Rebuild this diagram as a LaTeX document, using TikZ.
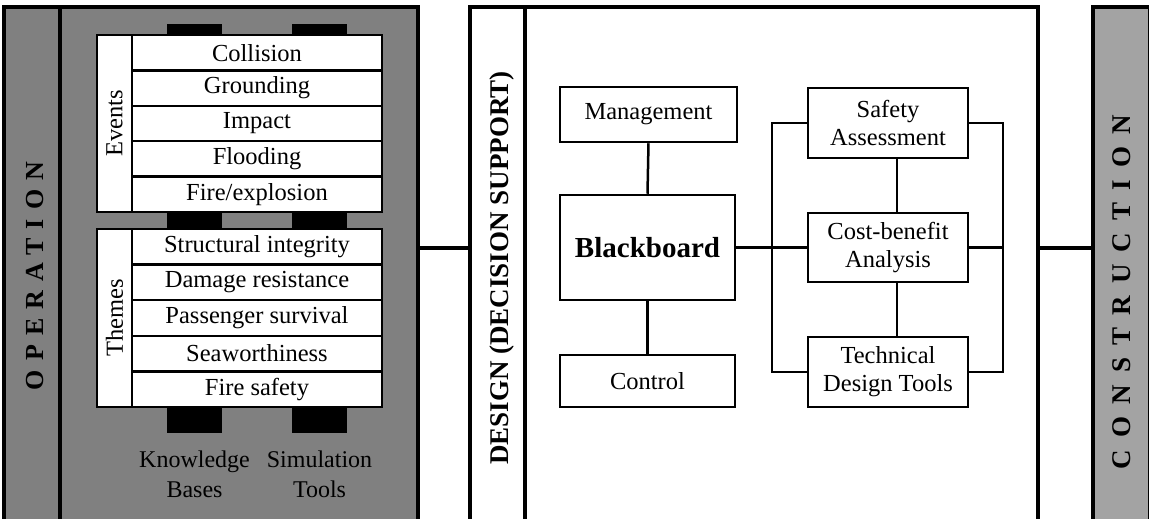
\documentclass[tikz,border=0pt]{standalone}
\usepackage{fontspec}
\setmainfont{Liberation Serif}
\newfontfamily\opsfont[LetterSpace=35]{Liberation Serif}
\newfontfamily\consfont[LetterSpace=45]{Liberation Serif}
\usetikzlibrary{calc}
\begin{document}
\begin{tikzpicture}[x=1pt,y=-1pt,
  txt/.style={inner sep=0pt, font=\fontsize{24pt}{28pt}\selectfont},
  greypanel/.style={draw, line width=4.5pt, fill=black!50, inner sep=0pt},
  lightpanel/.style={draw, line width=4pt, fill=black!36, inner sep=0pt},
  whitepanel/.style={draw, line width=4pt, fill=white, inner sep=0pt},
  row/.style={draw, line width=2.5pt, fill=white, inner sep=0pt,
    minimum width=250pt, minimum height=35.4pt, font=\fontsize{24.5pt}{28pt}\selectfont},
  labcol/.style={draw, line width=2.5pt, fill=white, inner sep=0pt,
    minimum width=35pt, font=\fontsize{24.5pt}{28pt}\selectfont},
  port/.style={fill=black, draw=none, inner sep=0pt, minimum width=55pt},
  box/.style={draw, line width=2.5pt, fill=white, inner sep=0pt, align=center,
    font=\fontsize{24.5pt}{28pt}\selectfont},
  link/.style={line width=2.5pt},
  panellink/.style={line width=4pt},
]
\useasboundingbox (0,0) rectangle (1149,519);
\clip (0,0) rectangle (1149,519);
\fill[white] (0,0) rectangle (1149,519);

% ---- operation side: strip + knowledge / simulation panel
\node[greypanel, minimum width=56pt, minimum height=533pt] (opstrip) at (32,273.5) {};
\node[greypanel, minimum width=358pt, minimum height=533pt] (kbpanel) at (239,273.5) {};
\node[txt, rotate=90] (oplabel) at (35,276) {\fontsize{26pt}{30pt}\opsfont\bfseries OPERATION};

% black ports between the stacks
\foreach \px [count=\k] in {194.5,319.5}{
  \node[port, minimum height=11pt] (pa\k) at (\px,29.5) {};
  \node[port, minimum height=17pt] (pb\k) at (\px,220.5) {};
  \node[port, minimum height=26pt] (pc\k) at (\px,420) {};
}

% events stack
\node[labcol, minimum height=177pt] (evlab) at (114.5,123.5) {\rotatebox{90}{Events}};
\foreach \t [count=\i from 0] in {Collision,Grounding,Impact,Flooding,Fire/explosion}{
  \node[row] (ev\i) at (257,{52.7+35.4*\i}) {\t};
}

% themes stack
\node[labcol, minimum height=178pt] (thlab) at (114.5,318) {\rotatebox{90}{Themes}};
\foreach \t [count=\i from 0] in {Structural integrity,Damage resistance,Passenger survival,Seaworthiness,Fire safety}{
  \node[row, minimum height=35.6pt] (th\i) at (257,{246.8+35.6*\i}) {\t};
}

\node[txt, align=center] (kbtext) at (194.5,474) {Knowledge\\[2pt]Bases};
\node[txt, align=center] (simtext) at (319.5,474) {Simulation\\[2pt]Tools};

% ---- design (decision support) panel
\node[whitepanel, minimum width=55pt, minimum height=533pt] (dstrip) at (497.5,273.5) {};
\node[whitepanel, minimum width=513pt, minimum height=533pt] (dmain) at (781.5,273.5) {};
\node[txt, rotate=90] (dlabel) at (502,268) {\fontsize{27pt}{30pt}\selectfont\bfseries DESIGN (DECISION SUPPORT)};

\node[box, minimum width=177pt, minimum height=55pt] (mgmt) at (648.5,114.5) {Management};
\node[box, minimum width=175pt, minimum height=105pt, font=\fontsize{29pt}{32pt}\selectfont\bfseries] (bb) at (647.5,247.5) {Blackboard};
\node[box, minimum width=175pt, minimum height=52pt] (ctrl) at (647.5,381) {Control};

\node[box, minimum width=160pt, minimum height=70pt] (safety) at (888,123) {Safety\\Assessment};
\node[box, minimum width=160pt, minimum height=69pt] (cost) at (888,247.5) {Cost-benefit\\Analysis};
\node[box, minimum width=160pt, minimum height=70pt] (tech) at (888,372) {Technical\\Design Tools};

\coordinate (lb) at (772,0);
\coordinate (rb) at (1003,0);

\draw[link] (mgmt.south) -- (bb.north);
\draw[link] (bb.south) -- (ctrl.north);
\draw[link] ([xshift=9pt]safety.south) -- ([xshift=9pt]cost.north);
\draw[link] ([xshift=9pt]cost.south) -- ([xshift=9pt]tech.north);
\draw[link] (bb.east) -- (cost.west);
\draw[link] (safety.west) -- (safety.west -| lb) -- (tech.west -| lb) -- (tech.west);
\draw[link] (safety.east) -- (safety.east -| rb) -- (tech.east -| rb) -- (tech.east);
\draw[link] (cost.east) -- (cost.east -| rb);

% ---- construction strip
\node[lightpanel, minimum width=57pt, minimum height=533pt] (cons) at (1121.5,273.5) {};
\node[txt, rotate=90] (clabel) at (1122,292) {\fontsize{27pt}{30pt}\consfont\bfseries CONSTRUCTION};

% ---- links between the three stages
\draw[panellink] (kbpanel.east |- bb.east) -- (dstrip.west |- bb.east);
\draw[panellink] (dmain.east |- cost.east) -- (cons.west |- cost.east);
\end{tikzpicture}
\end{document}
